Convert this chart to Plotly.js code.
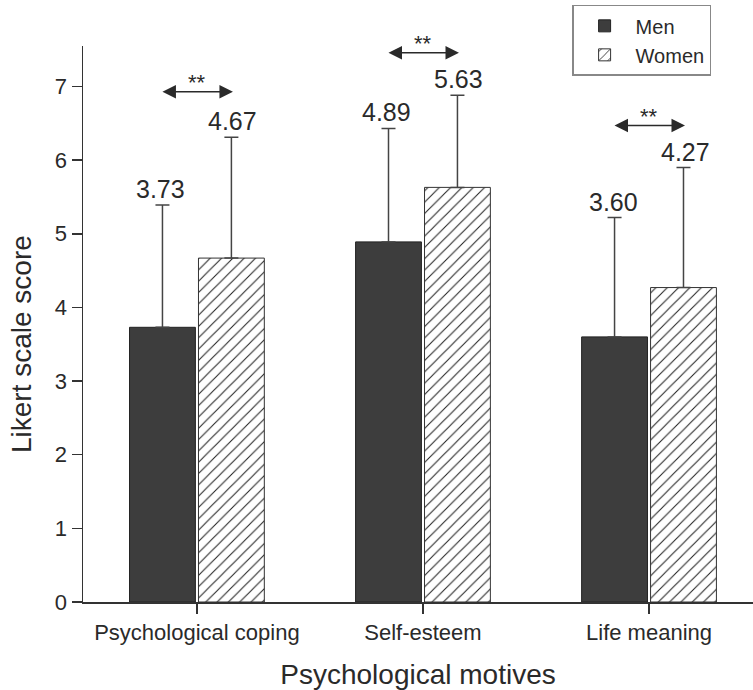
<!DOCTYPE html>
<html>
<head>
<meta charset="utf-8">
<script src="https://cdn.plot.ly/plotly-3.0.1.min.js"></script>
<style>
  html, body { margin: 0; padding: 0; background: #fff; }
  #chart { width: 753px; height: 690px; }
</style>
</head>
<body>
<div id="chart"></div>
<script>
// Psychological motives by gender (mean Likert score + SD)
const motives = ["Psychological coping", "Self-esteem", "Life meaning"];
const menMeans = [3.73, 4.89, 3.60];
const menSD = [1.66, 1.54, 1.62];
const womenMeans = [4.67, 5.63, 4.27];
const womenSD = [1.64, 1.25, 1.63];
// Height of each significance arrow and its label
const sigLevels = [6.93, 7.46, 6.47];
const sigLabels = ["**", "**", "**"];

const FONT = "Liberation Sans, Arial, Helvetica, sans-serif";
const INK = "#2a2a2a";

const men = {
  type: "bar", name: "Men", x: motives, y: menMeans,
  marker: { color: "#3d3d3d", line: { color: "#222", width: 1 } },
  error_y: { type: "data", symmetric: false, array: menSD, arrayminus: menSD.map(() => 0),
             color: "#444", thickness: 1.5, width: 7 },
  hoverinfo: "skip"
};
const women = {
  type: "bar", name: "Women", x: motives, y: womenMeans,
  marker: {
    color: "#fff",
    line: { color: "#333", width: 1 },
    pattern: { shape: "/", fgcolor: "#222", bgcolor: "#fff", size: 8, solidity: 0.13 }
  },
  error_y: { type: "data", symmetric: false, array: womenSD, arrayminus: womenSD.map(() => 0),
             color: "#444", thickness: 1.5, width: 7 },
  hoverinfo: "skip"
};

const annotations = [];
// value labels sitting on top of each error bar
motives.forEach((m, i) => {
  [[menMeans, menSD, -36], [womenMeans, womenSD, 36]].forEach(([vals, sd, shift]) => {
    annotations.push({
      x: m, y: vals[i] + sd[i], xref: "x", yref: "y", xshift: shift, yshift: 0,
      yanchor: "bottom", showarrow: false, text: vals[i].toFixed(2),
      font: { family: FONT, size: 25, color: INK }
    });
  });
  // double-headed significance arrow
  annotations.push({
    x: m, y: sigLevels[i], xref: "x", yref: "y", xshift: 36,
    ax: -72, ay: 0, axref: "pixel", ayref: "pixel",
    text: "", showarrow: true, arrowside: "end+start",
    arrowhead: 2, startarrowhead: 2, arrowsize: 1.8, startarrowsize: 1.8,
    arrowwidth: 1.5, arrowcolor: INK, standoff: 0, startstandoff: 0
  });
  annotations.push({
    x: m, y: sigLevels[i], xref: "x", yref: "y", yshift: 9, showarrow: false,
    text: sigLabels[i], font: { family: FONT, size: 22, color: INK }
  });
});

// y-axis title, drawn as rotated text
annotations.push({
  text: "Likert scale score", xref: "paper", yref: "paper",
  x: -0.0925, y: 0.464, xanchor: "center", yanchor: "middle",
  textangle: -90, showarrow: false,
  font: { family: FONT, size: 28, color: INK }
});

const layout = {
  width: 753, height: 690,
  margin: { l: 83, r: 0, t: 46, b: 88 },
  paper_bgcolor: "#fff", plot_bgcolor: "#fff",
  font: { family: FONT, color: INK },
  barmode: "group", bargap: 0.39, bargroupgap: 0.045,
  showlegend: true,
  legend: {
    x: 0.73, y: 1.074, xanchor: "left", yanchor: "top",
    bordercolor: "#888", borderwidth: 1.5, bgcolor: "#fff",
    font: { family: FONT, size: 20, color: INK },
    tracegroupgap: 0, itemwidth: 52
  },
  xaxis: {
    type: "category", range: [-0.504, 2.46],
    showline: true, linecolor: "#333", linewidth: 1.5,
    ticks: "outside", ticklen: 10, tickwidth: 1.5, tickcolor: "#333",
    tickfont: { family: FONT, size: 22, color: INK },
    showgrid: false, zeroline: false,
    title: { text: "Psychological motives", font: { family: FONT, size: 28, color: INK }, standoff: 20 }
  },
  yaxis: {
    range: [0, 7.55], dtick: 1,
    showline: true, linecolor: "#333", linewidth: 1.5,
    ticks: "outside", ticklen: 10, tickwidth: 1.5, tickcolor: "#333",
    tickfont: { family: FONT, size: 22, color: INK },
    showgrid: false, zeroline: false
  },
  annotations: annotations
};

Plotly.newPlot("chart", [men, women], layout, { staticPlot: true, displayModeBar: false });
</script>
</body>
</html>
